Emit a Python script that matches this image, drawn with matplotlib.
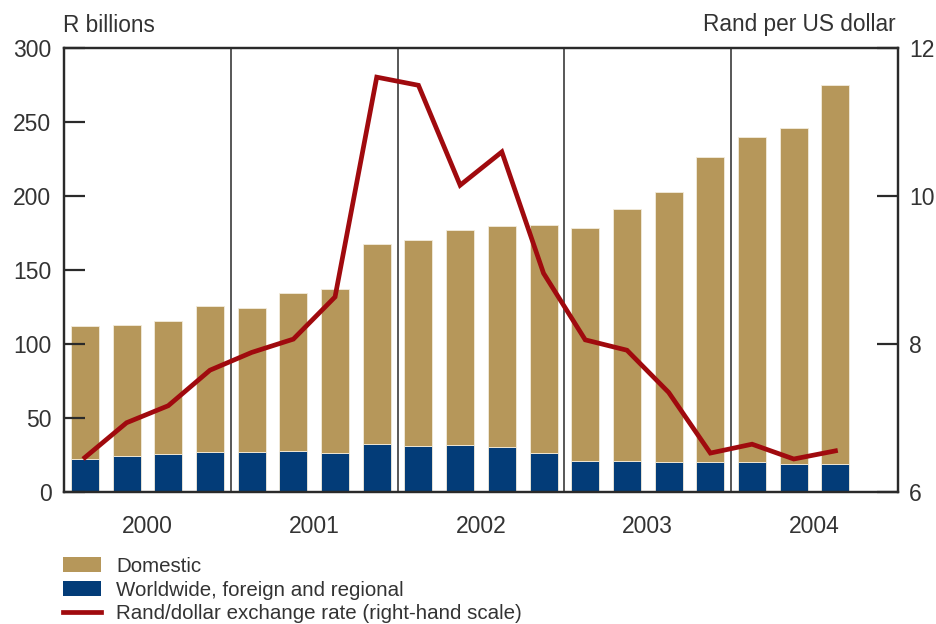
import matplotlib
matplotlib.use("Agg")
import matplotlib.pyplot as plt
from matplotlib.patches import Patch
from matplotlib.lines import Line2D

plt.rcParams['font.family'] = ['Liberation Sans', 'DejaVu Sans']

# quarterly data, 2000 Q1 - 2004 Q3
years = ['2000', '2001', '2002', '2003', '2004']
worldwide = [22.7, 24.5, 26.1, 27.4, 27.1, 27.9, 26.3, 32.4, 31.5, 32.0,
             30.6, 26.3, 21.4, 20.9, 20.5, 20.3, 20.3, 18.9, 19.3]
total = [112.6, 113.3, 115.8, 125.7, 124.3, 134.5, 137.2, 167.6, 170.5, 177.5,
         179.9, 180.4, 178.6, 191.4, 202.9, 226.8, 240.0, 246.0, 275.4]
rand_usd = [6.47, 6.94, 7.17, 7.65, 7.89, 8.07, 8.64, 11.61, 11.50, 10.15,
            10.60, 8.96, 8.06, 7.92, 7.35, 6.53, 6.65, 6.45, 6.56]
domestic = [t - w for t, w in zip(total, worldwide)]

gold = '#B6975A'
blue = '#033C78'
red = '#A00A0E'
txt = '#333333'
dark = '#2a2a2a'

fig = plt.figure(figsize=(9.36, 6.24), dpi=100)
ax = fig.add_axes([64/936, 1-492.3/624, 834/936, 444/624])
ax2 = ax.twinx()

x = list(range(len(total)))
ax.bar(x, worldwide, width=0.67, color=blue, edgecolor='#f3ecdc', linewidth=0.6)
ax.bar(x, domestic, bottom=worldwide, width=0.67, color=gold, edgecolor='#f3ecdc', linewidth=0.6)
ax2.plot(x, rand_usd, color=red, linewidth=3.4, solid_joinstyle='miter', zorder=5)

ax.set_xlim(-0.5, 19.5)
ax.set_ylim(0, 300)
ax2.set_ylim(6, 12)

# year separators
for k in range(1, 5):
    ax.axvline(4*k - 0.5, color=dark, linewidth=1.1)

ax.set_yticks(range(0, 301, 50))
ax2.set_yticks([6, 8, 10, 12])
ax.set_xticks([4*k + 1.5 for k in range(5)])
ax.set_xticklabels(years)
ax.tick_params(axis='x', length=0, pad=16, labelsize=16.5, labelcolor=txt)
ax.tick_params(axis='y', direction='in', length=15, width=1.6, color=dark,
               pad=9, labelsize=16.5, labelcolor=txt)
ax2.tick_params(axis='y', direction='in', length=15, width=1.6, color=dark,
                pad=8, labelsize=16.5, labelcolor=txt)

for a in (ax, ax2):
    for s in a.spines.values():
        s.set_linewidth(1.6)
        s.set_color(dark)

fig.text(63/936, 1-25/624, 'R billions', fontsize=16.3, color=txt, va='center', ha='left')
fig.text(896/936, 1-25/624, 'Rand per US dollar', fontsize=16.3, color=txt, va='center', ha='right')

handles = [Patch(facecolor=gold, edgecolor='none'),
           Patch(facecolor=blue, edgecolor='none'),
           Line2D([0], [0], color=red, linewidth=3.4)]
labels = ['Domestic', 'Worldwide, foreign and regional',
          'Rand/dollar exchange rate (right-hand scale)']
fig.legend(handles, labels, loc='upper left', bbox_to_anchor=(63/936, 1-557/624),
           frameon=False, fontsize=14.8, labelcolor=txt, borderpad=0, borderaxespad=0,
           handlelength=1.85, handleheight=0.75, handletextpad=0.75, labelspacing=0.22)

fig.savefig('out.png', dpi=100)
